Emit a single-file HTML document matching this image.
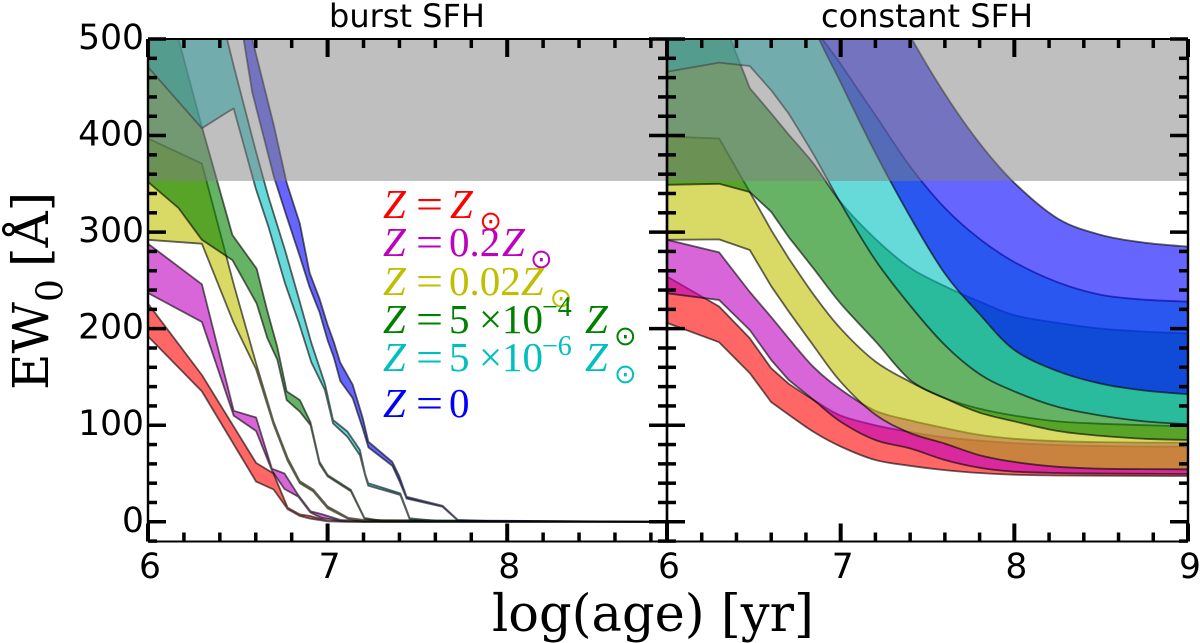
<!DOCTYPE html>
<html lang="en">
<head>
<meta charset="utf-8">
<title>EW0 versus log age for burst and constant SFH</title>
<style>
html,body{margin:0;padding:0;background:#fff;}
svg{display:block;}
.tick-label{font-family:"DejaVu Sans",sans-serif;font-size:34.5px;fill:#000;}
.title{font-family:"DejaVu Sans",sans-serif;font-size:32px;fill:#000;text-anchor:middle;}
.axis-title{font-family:"DejaVu Serif",serif;font-size:51px;fill:#000;}
.lg{font-family:"Liberation Serif",serif;font-size:41px;}
.lg .i,.i{font-style:italic;}
.sun{font-family:"DejaVu Sans",sans-serif;font-size:27px;text-anchor:middle;}
.sup{font-size:28px;}
</style>
</head>
<body>
<svg id="chart" xmlns="http://www.w3.org/2000/svg" width="1200" height="643" viewBox="0 0 1200 643">
<defs>
<clipPath id="clip-burst"><rect x="148" y="39" width="519" height="503"/></clipPath>
<clipPath id="clip-constant"><rect x="667" y="39" width="521" height="503"/></clipPath>
</defs>
<g id="burst-panel"></g>
<g id="constant-panel"></g>
<g id="axes-layer"></g>

<text class="title" x="407" y="27">burst SFH</text>
<text class="title" x="927" y="27">constant SFH</text>
<text class="axis-title" x="492" y="631">log(age) [yr]</text>
<text class="axis-title" font-size="50" style="font-size:50px" transform="translate(48,390) rotate(-90)">EW<tspan style="font-size:36px" x="88" dy="14.7">0</tspan><tspan x="123" dy="-14.7">[Å]</tspan></text>

<g class="lg">
 <g fill="#ff0000">
  <text class="i" x="383" y="218">Z</text><text x="416" y="218" textLength="27" lengthAdjust="spacingAndGlyphs">=</text><text class="i" x="450" y="218">Z</text>
  <text class="sun" x="490.7" y="230">⊙</text>
 </g>
 <g fill="#bf00bf">
  <text class="i" x="383" y="256">Z</text><text x="416" y="256" textLength="27" lengthAdjust="spacingAndGlyphs">=</text><text x="449" y="256">0.2</text><text class="i" x="502" y="256">Z</text>
  <text class="sun" x="541.3" y="268">⊙</text>
 </g>
 <g fill="#bfbf00">
  <text x="449" y="295">0.02</text><text class="i" x="383" y="295">Z</text><text x="416" y="295" textLength="27" lengthAdjust="spacingAndGlyphs">=</text><text class="i" x="521" y="295">Z</text>
  <text class="sun" x="561" y="307">⊙</text>
 </g>
 <g fill="#008000">
  <text class="i" x="383" y="333">Z</text><text x="416" y="333" textLength="27" lengthAdjust="spacingAndGlyphs">=</text><text x="449" y="333">5</text><text x="479" y="333">×</text><text x="502" y="333">10</text><text class="sup" x="542" y="316">−4</text><text class="i" x="585" y="333">Z</text>
  <text class="sun" x="625.3" y="345">⊙</text>
 </g>
 <g fill="#00bfbf">
  <text class="i" x="383" y="371">Z</text><text x="416" y="371" textLength="27" lengthAdjust="spacingAndGlyphs">=</text><text x="449" y="371">5</text><text x="479" y="371">×</text><text x="502" y="371">10</text><text class="sup" x="542" y="355">−6</text><text class="i" x="585" y="371">Z</text>
  <text class="sun" x="625.3" y="383">⊙</text>
 </g>
 <g fill="#0000ff">
  <text class="i" x="383" y="417">Z</text><text x="416" y="417" textLength="27" lengthAdjust="spacingAndGlyphs">=</text><text x="449" y="417">0</text>
 </g>
</g>
</svg>

<script>
// ---- burst SFH data (log age, EW upper, EW lower) ----
var burstRedAges = [6,6.3,6.602,6.699,6.778,6.845,6.903,7,7.1,8.89];
var burstRedUpper = [226,152,61,50,14.6,7.7,6,1,0.5,0];
var burstRedLower = [192,135,41.6,33.6,13,6,3.3,0.5,0,0];

var burstMagentaAges = [6,6.3,6.477,6.602,6.69,6.76,6.837,6.905,6.967,7.07,7.2,8.89];
var burstMagentaUpper = [288,246,115,108,55,50,27.5,11,8,2,0.5,0];
var burstMagentaLower = [237,207,110,94,53,34,26,9.5,4,1,0,0];

var burstYellowAges = [6,6.3,6.477,6.602,6.699,6.778,6.845,6.92,7,7.115,7.2,8.89];
var burstYellowUpper = [397,371,246,164,104,66,42,33.5,16,4,2,0];
var burstYellowLower = [292,288,206,158,101,63,40,31.5,14,3,1,0];

var burstGreenAges = [6,6.17,6.3,6.47,6.605,6.665,6.72,6.772,6.846,6.905,6.955,7,7.13,7.205,7.3,8.89];
var burstGreenUpper = [560,500,409,297,262,218,181,135,126,103,62,48.5,33,4,1,0];
var burstGreenLower = [352,325,292,271,226,190,168,126,114,100,60,47,31.5,3.2,0.5,0];

var burstCyanAges = [6,6.3,6.44,6.477,6.6,6.67,6.763,6.84,6.91,6.985,7.03,7.11,7.18,7.208,7.226,7.405,7.457,7.6,8.89];
var burstCyanUpper = [900,600,500,472,384,337,281.5,231,185,143,105.4,93.5,74.5,50,40,29.5,3.6,1,0];
var burstCyanLower = [471,407.5,424,428,345,306,247,206,165,136.5,102,88,69,48.5,37.5,27.8,2.6,0.5,0];

var burstBlueAges = [6,6.5,6.58,6.7,6.772,6.845,6.9,6.955,7,7.035,7.07,7.14,7.195,7.227,7.36,7.4,7.44,7.64,7.725,7.9,8.89];
var burstBlueUpper = [1100,600,500,411,351,309,258,231,204,186,165,142,108,83,62,47,26,16.7,2,0.8,0];
var burstBlueLower = [1000,537,445,358,316,275,243,217,188,170,146,128,97,77,58,42,24,15.5,1.5,0.5,0];

// ---- constant SFH data ----
var constantAges = [6,6.3,6.477,6.6,6.7,6.845,7,7.2,7.4,7.6,7.8,8,8.25,8.5,8.75,9];
var constantRedUpper = [254,223,190,159,143,126,110,100,93,87.5,84,81.5,79.5,78.5,78,77.8];
var constantRedLower = [206,186,154,124,111,93,78,64,58,53.5,50.5,48.8,48,47.7,47.5,47.4];
var constantMagentaUpper = [292,279,238,212,190,160,137,115,105,97,90,86,83.5,82.5,82,82];
var constantMagentaLower = [236.6,229.7,198.6,167.6,147,126,103.7,84.7,76,64,56,52,50.5,50,49.7,49.5];
var constantYellowUpper = [399,397,341.5,302,273,235,200,166,145,128,117,110,104,101.5,100,99];
var constantYellowLower = [292,292.5,281.5,244,218,182,145,111,92,81,69,62,57,55,54.6,54.4];
var constantGreenUpper = [640,530,449,423,401,370.5,331,293,263,244,228,214,206,200,197,195];
var constantGreenLower = [349,350,341.5,321,295,262,226,187,147,128,113,104,94,89,86,84.7];
var constantCyanUpper = [900,780,690,620,570,514,474,421,368,325,293,269,248,235,230,228];
var constantCyanLower = [466,475.6,472,447,423,380,330,271,224,183,153,135,119,110,104,101];
var constantBlueUpper = [1000,950,880,820,770,700,640,570,503,443,392,351,314,297,289,285];
var constantBlueLower = [900,800,740,680,590,513,455,382,316,257,215,178,156,143,136,132];

// ---- axis tick data ----
var burstXTickLabels = [6,7,8];
var constantXTickLabels = [6,7,8,9];
var yTickLabels = [0,100,200,300,400,500];
var grayThreshold = 353;

// ---- axis functions ----
var SVGNS = 'http://www.w3.org/2000/svg';
function xBurst(a){ return 148 + (a - 6) * 179.6; }
function xConstant(a){ return 667 + (a - 6) * 173.67; }
function yEW(v){ return 521.8 - v * 0.9656; }

// traces a curve through the points; segments at or past smoothFrom are drawn as splines
function tracePoints(pts, smoothFrom, moveFirst){
  var d = (moveFirst ? 'M' : 'L') + pts[0][0].toFixed(1) + ' ' + pts[0][1].toFixed(1);
  for (var i = 0; i < pts.length - 1; i++){
    var isSmooth = (smoothFrom.lo <= i && i + 1 <= smoothFrom.hi);
    var p1 = pts[i], p2 = pts[i + 1];
    if (!isSmooth){
      d += 'L' + p2[0].toFixed(1) + ' ' + p2[1].toFixed(1);
    } else {
      var p0 = pts[Math.max(i - 1, smoothFrom.lo)];
      var p3 = pts[Math.min(i + 2, smoothFrom.hi)];
      var c1x = p1[0] + (p2[0] - p0[0]) / 6, c1y = p1[1] + (p2[1] - p0[1]) / 6;
      var c2x = p2[0] - (p3[0] - p1[0]) / 6, c2y = p2[1] - (p3[1] - p1[1]) / 6;
      d += 'C' + c1x.toFixed(1) + ' ' + c1y.toFixed(1) + ' ' + c2x.toFixed(1) + ' ' + c2y.toFixed(1) + ' ' + p2[0].toFixed(1) + ' ' + p2[1].toFixed(1);
    }
  }
  return d;
}

function bandPath(ages, upper, lower, xf, smoothIndex){
  var n = ages.length;
  var up = [], low = [];
  for (var i = 0; i < n; i++){
    up.push([xf(ages[i]), yEW(upper[i])]);
    low.push([xf(ages[n - 1 - i]), yEW(lower[n - 1 - i])]);
  }
  var s = smoothIndex === undefined ? n : smoothIndex;
  var upRange = { lo: s, hi: n - 1 };
  var lowRange = { lo: 0, hi: n - 1 - s };
  return tracePoints(up, upRange, true) + tracePoints(low, lowRange, false) + 'Z';
}

function addBand(parent, ages, upper, lower, xf, colour, name, smoothIndex){
  var p = document.createElementNS(SVGNS, 'path');
  p.setAttribute('d', bandPath(ages, upper, lower, xf, smoothIndex));
  p.setAttribute('fill', colour);
  p.setAttribute('fill-opacity', '0.6');
  p.setAttribute('stroke', '#000');
  p.setAttribute('stroke-opacity', '0.6');
  p.setAttribute('stroke-width', '1.8');
  p.setAttribute('stroke-linejoin', 'round');
  
  
  parent.appendChild(p);
}

function addGray(parent, x, w){
  var r = document.createElementNS(SVGNS, 'rect');
  r.setAttribute('x', x);
  r.setAttribute('y', 39);
  r.setAttribute('width', w);
  r.setAttribute('height', yEW(grayThreshold) - 39);
  r.setAttribute('fill', '#808080');
  r.setAttribute('fill-opacity', '0.5');
  
  
  parent.appendChild(r);
}

var burstGroup = document.getElementById('burst-panel');
burstGroup.setAttribute('clip-path', 'url(#clip-burst)');
addBand(burstGroup, burstRedAges, burstRedUpper, burstRedLower, xBurst, '#ff0000', 'burst-band-solar');
addBand(burstGroup, burstMagentaAges, burstMagentaUpper, burstMagentaLower, xBurst, '#bf00bf', 'burst-band-0p2-solar');
addBand(burstGroup, burstYellowAges, burstYellowUpper, burstYellowLower, xBurst, '#bfbf00', 'burst-band-0p02-solar');
addBand(burstGroup, burstGreenAges, burstGreenUpper, burstGreenLower, xBurst, '#008000', 'burst-band-5e-4-solar');
addBand(burstGroup, burstCyanAges, burstCyanUpper, burstCyanLower, xBurst, '#00bfbf', 'burst-band-5e-6-solar');
addBand(burstGroup, burstBlueAges, burstBlueUpper, burstBlueLower, xBurst, '#0000ff', 'burst-band-zero');
addGray(burstGroup, 148, 519);

var constantGroup = document.getElementById('constant-panel');
constantGroup.setAttribute('clip-path', 'url(#clip-constant)');
var smoothStart = 4;
addBand(constantGroup, constantAges, constantRedUpper, constantRedLower, xConstant, '#ff0000', 'constant-band-solar', smoothStart);
addBand(constantGroup, constantAges, constantMagentaUpper, constantMagentaLower, xConstant, '#bf00bf', 'constant-band-0p2-solar', smoothStart);
addBand(constantGroup, constantAges, constantYellowUpper, constantYellowLower, xConstant, '#bfbf00', 'constant-band-0p02-solar', smoothStart);
addBand(constantGroup, constantAges, constantGreenUpper, constantGreenLower, xConstant, '#008000', 'constant-band-5e-4-solar', smoothStart);
addBand(constantGroup, constantAges, constantCyanUpper, constantCyanLower, xConstant, '#00bfbf', 'constant-band-5e-6-solar', smoothStart);
addBand(constantGroup, constantAges, constantBlueUpper, constantBlueLower, xConstant, '#0000ff', 'constant-band-zero', smoothStart);
addGray(constantGroup, 667, 521);

// ---- ticks, spines, labels ----
var axes = document.getElementById('axes-layer');
var TOP = 39, BOTTOM = 541.5;

function line(x1, y1, x2, y2, w){
  var l = document.createElementNS(SVGNS, 'line');
  l.setAttribute('x1', x1);
  l.setAttribute('y1', y1);
  l.setAttribute('x2', x2);
  l.setAttribute('y2', y2);
  l.setAttribute('stroke', '#000');
  l.setAttribute('stroke-width', w);
  
  
  axes.appendChild(l);
  return l;
}

function label(x, y, txt, anchor, name){
  var t = document.createElementNS(SVGNS, 'text');
  t.setAttribute('x', x);
  t.setAttribute('y', y);
  t.setAttribute('class', 'tick-label');
  t.setAttribute('text-anchor', anchor);
  
  
  t.textContent = txt;
  axes.appendChild(t);
}

function drawPanel(xf, left, right, maxMinorAge, xLabels, name){
  // x ticks every 0.2, major every 1
  for (var k = 0; 6 + k * 0.2 <= maxMinorAge + 1e-6; k++){
    var a = 6 + k * 0.2;
    var major = k % 5 === 0;
    var len = major ? 18 : 9;
    var px = xf(a);
    line(px, TOP, px, TOP + len, major ? 4 : 3.5);
    line(px, BOTTOM, px, BOTTOM - len, major ? 4 : 3.5);
  }
  // y ticks every 20, major every 100
  for (var v = -20; v <= 500; v += 20){
    var ymajor = v % 100 === 0;
    var ylen = ymajor ? 18 : 9;
    var py = yEW(v);
    line(left, py, left + ylen, py, 3.5);
    line(right, py, right - ylen, py, 3.5);
  }
  // spines
  line(left, TOP, right, TOP, 2);
  line(left, BOTTOM, right, BOTTOM, 2);
  line(left, TOP, left, BOTTOM, 2.4);
  line(right, TOP, right, BOTTOM, 2.4);
  xLabels.forEach(function(lb){
    label(xf(lb) + 2, 578, String(lb), 'middle', name + '-x-tick-label');
  });
}

drawPanel(xBurst, 148, 667, 8.8, burstXTickLabels, 'burst');
drawPanel(xConstant, 667, 1188, 9, constantXTickLabels, 'constant');
yTickLabels.forEach(function(v){
  label(144, yEW(v) + 10, String(v), 'end', 'y-tick-label');
});
</script>
</body>
</html>
